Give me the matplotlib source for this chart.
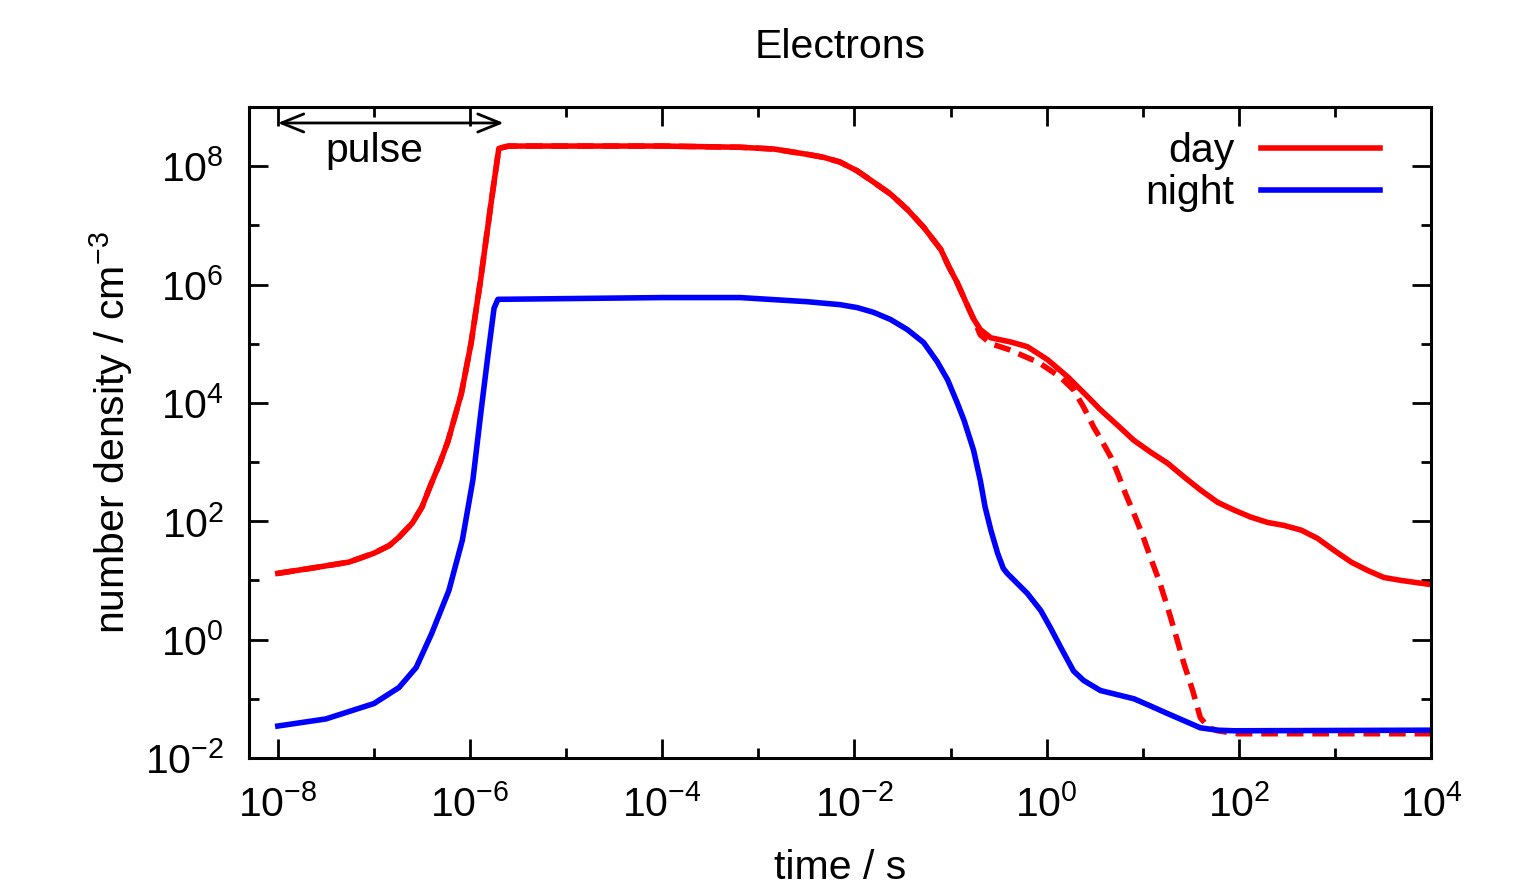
import numpy as np
import matplotlib
matplotlib.use("Agg")
import matplotlib.pyplot as plt
from matplotlib.ticker import FixedLocator, FixedFormatter, NullFormatter

plt.rcParams['font.family'] = ['Liberation Sans', 'DejaVu Sans']
plt.rcParams['mathtext.fontset'] = 'custom'
plt.rcParams['mathtext.rm'] = 'Liberation Sans'
plt.rcParams['mathtext.it'] = 'Liberation Sans:italic'
plt.rcParams['mathtext.bf'] = 'Liberation Sans:bold'
plt.rcParams['mathtext.default'] = 'regular'

# ---- data (log10 of time in s, log10 of density in cm^-3) ----
# shared early part of the two "day" runs
early_logt = [-8.0, -7.6, -7.26, -7.0, -6.84, -6.74, -6.60, -6.5, -6.41, -6.31, -6.23,
              -6.09, -5.99, -5.89, -5.78, -5.70, -5.6, -4.0, -3.19, -2.84, -2.49,
              -2.32, -2.15, -1.97, -1.80, -1.625, -1.45, -1.28, -1.10, -1.02, -0.93,
              -0.82, -0.76]
early_logn = [1.12, 1.22, 1.31, 1.46, 1.59, 1.73, 1.97, 2.24, 2.61, 3.0, 3.35,
              4.16, 5.0, 6.08, 7.39, 8.30, 8.34, 8.34, 8.32, 8.29, 8.20,
              8.15, 8.07, 7.92, 7.73, 7.53, 7.27, 6.97, 6.59, 6.31, 6.03,
              5.63, 5.42]

day_late_logt = [-0.69, -0.58, -0.375, -0.20, 0.01, 0.22, 0.43, 0.5625, 0.74, 0.906,
                 1.08, 1.26, 1.43, 1.60, 1.78, 1.95, 2.125, 2.30, 2.47, 2.65, 2.82,
                 2.99, 3.17, 3.34, 3.51, 3.69, 4.0]
day_late_logn = [5.24, 5.10, 5.03, 4.95, 4.73, 4.44, 4.10, 3.88, 3.62, 3.37,
                 3.17, 2.98, 2.75, 2.53, 2.32, 2.19, 2.07, 1.98, 1.93, 1.85, 1.71,
                 1.51, 1.31, 1.17, 1.05, 1.0, 0.93]

day_alt_late_logt = [-0.69, -0.58, -0.39, -0.08, 0.14, 0.28, 0.385, 0.49, 0.56, 0.67,
                     0.74, 0.82, 0.906, 1.0, 1.08, 1.17, 1.26, 1.34, 1.43, 1.52, 1.60,
                     1.69, 1.78, 1.99, 4.0]
day_alt_late_logn = [5.15, 5.0, 4.90, 4.68, 4.44, 4.22, 3.93, 3.59, 3.40, 3.08,
                     2.81, 2.47, 2.14, 1.76, 1.39, 1.0, 0.54, 0.10, -0.41, -0.86, -1.32,
                     -1.49, -1.54, -1.59, -1.59]

night_logt = [-8.0, -7.5, -7.0, -6.74, -6.56, -6.40, -6.22, -6.08, -5.97, -5.89,
              -5.81, -5.75, -5.71, -4.0, -3.19, -2.49, -2.15, -1.97, -1.80, -1.625,
              -1.45, -1.28, -1.14, -1.03, -0.93, -0.86, -0.76, -0.69, -0.64, -0.58,
              -0.51, -0.45, -0.41, -0.20, -0.06, 0.04, 0.15, 0.28, 0.385, 0.56,
              0.91, 1.08, 1.26, 1.43, 1.60, 1.78, 1.95, 4.0]
night_logn = [-1.46, -1.34, -1.08, -0.81, -0.47, 0.10, 0.83, 1.68, 2.70, 3.80,
              4.85, 5.60, 5.75, 5.78, 5.78, 5.71, 5.66, 5.61, 5.53, 5.41,
              5.24, 5.02, 4.70, 4.39, 4.0, 3.71, 3.20, 2.69, 2.24, 1.85,
              1.46, 1.20, 1.12, 0.78, 0.49, 0.20, -0.14, -0.53, -0.69, -0.86,
              -1.0, -1.12, -1.25, -1.37, -1.49, -1.53, -1.54, -1.53]

x_major_exp = [-8, -6, -4, -2, 0, 2, 4]
x_minor_exp = [-7, -5, -3, -1, 1, 3]
y_major_exp = [-2, 0, 2, 4, 6, 8]
y_minor_exp = [-1, 1, 3, 5, 7]
x_labels = [rf'$10^{{{e}}}$' for e in x_major_exp]
y_labels = [rf'$10^{{{e}}}$' for e in y_major_exp]

pulse_start_exp = -8.0
pulse_end_exp = -5.65
pulse_arrow_exp = 8.73

FS = 29.5
RED = '#ff0000'
BLUE = '#0000ff'
LW = 4.0

day_logt = early_logt + day_late_logt
day_logn = early_logn + day_late_logn
day_alt_logt = early_logt + day_alt_late_logt
day_alt_logn = early_logn + day_alt_late_logn

fig = plt.figure(figsize=(15.18, 8.91), dpi=100)
ax = fig.add_axes([249/1518, 1-758/891, (1431-249)/1518, (758-107)/891])
ax.set_xscale('log')
ax.set_yscale('log')

ax.plot(10**np.array(day_alt_logt), 10**np.array(day_alt_logn), color=RED, lw=LW,
        dashes=(3, 1.6))
l_day, = ax.plot(10**np.array(day_logt), 10**np.array(day_logn), color=RED, lw=LW,
                 label='day', solid_joinstyle='round')
l_night, = ax.plot(10**np.array(night_logt), 10**np.array(night_logn), color=BLUE, lw=LW,
                   label='night', solid_joinstyle='round')

ax.set_xlim(10**-8.3, 1e4)
ax.set_ylim(1e-2, 1e9)

ax.xaxis.set_major_locator(FixedLocator([10.0**e for e in x_major_exp]))
ax.xaxis.set_minor_locator(FixedLocator([10.0**e for e in x_minor_exp]))
ax.yaxis.set_major_locator(FixedLocator([10.0**e for e in y_major_exp]))
ax.yaxis.set_minor_locator(FixedLocator([10.0**e for e in y_minor_exp]))
ax.xaxis.set_major_formatter(FixedFormatter(x_labels))
ax.yaxis.set_major_formatter(FixedFormatter(y_labels))
ax.xaxis.set_minor_formatter(NullFormatter())
ax.yaxis.set_minor_formatter(NullFormatter())

ax.tick_params(which='both', direction='in', top=True, right=True, width=2, color='k')
ax.tick_params(which='major', length=14)
ax.tick_params(which='minor', length=7)
ax.tick_params(axis='x', which='major', labelsize=FS, pad=19)
ax.tick_params(axis='y', which='major', labelsize=FS, pad=18)
for s in ax.spines.values():
    s.set_linewidth(2.2)

ax.set_title('Electrons', fontsize=FS, pad=35)
ax.set_xlabel('time / s', fontsize=FS, labelpad=18)
ax.set_ylabel('number density / cm$^{-3}$', fontsize=FS, labelpad=7)

ax.annotate('', xy=(10**pulse_end_exp, 10**pulse_arrow_exp),
            xytext=(10**pulse_start_exp, 10**pulse_arrow_exp),
            arrowprops=dict(arrowstyle='<->,head_length=1.6,head_width=0.65',
                            lw=2, color='k', shrinkA=0, shrinkB=0, mutation_scale=10))
ax.text(1e-7, 10**8.07, 'pulse', fontsize=FS, ha='center', va='baseline')

ax.legend(handles=[l_day, l_night], loc='upper right',
          bbox_to_anchor=(1380/1518, 1-132/891), bbox_transform=fig.transFigure,
          frameon=False, markerfirst=False, handlelength=2.9, handletextpad=0.65,
          labelspacing=0.1, borderpad=0, borderaxespad=0, fontsize=FS)

fig.savefig('out.png', dpi=100)
